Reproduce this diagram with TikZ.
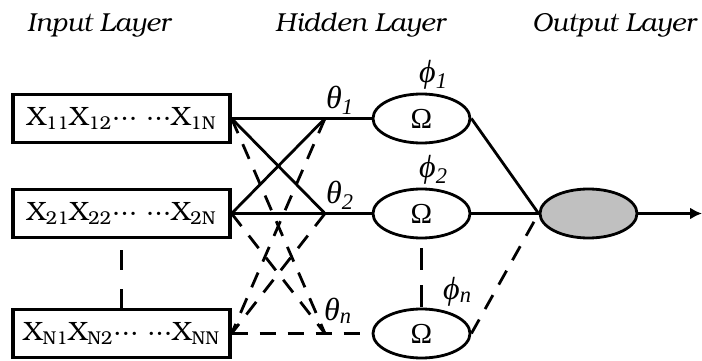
\documentclass[tikz,border=0pt]{standalone}
\usepackage{fontspec}
\setmainfont{Liberation Serif}
\newfontfamily\bonum{TeX Gyre Bonum}
\usetikzlibrary{shapes.geometric,arrows.meta}
\begin{document}
\begin{tikzpicture}[x=1pt,y=-1pt,
  inbox/.style={draw,line width=3.2pt,minimum width=217pt,minimum height=48pt,inner sep=0pt,font=\bonum\fontsize{26.5}{26.5}\selectfont},
  hid/.style={ellipse,draw,line width=2.8pt,minimum width=97pt,minimum height=49pt,inner sep=0pt,font=\fontsize{29}{29}\selectfont},
  conn/.style={line width=2.8pt},
  dconn/.style={line width=2.8pt,dash pattern=on 16pt off 12pt},
  vdashb/.style={line width=2.8pt,dash pattern=on 20pt off 19pt,dash phase=28pt},
  vdasho/.style={line width=2.8pt,dash pattern=on 22pt off 15pt,dash phase=28pt},
  title/.style={font=\bonum\itshape\fontsize{26}{26}\selectfont,anchor=base west,inner sep=0pt},
  glab/.style={font=\itshape\fontsize{32}{32}\selectfont,anchor=base west,inner sep=0pt}]
\useasboundingbox (0,0) rectangle (702,361);
% titles
\node[title] (ti) at (27,32) {Input Layer};
\node[title] (th) at (275,32) {Hidden Layer};
\node[title] (to) at (532,32) {Output Layer};
% input boxes
\node[inbox] (b1) at (121.5,118.5) {X\textsubscript{11}X\textsubscript{12}··· ···X\textsubscript{1N}};
\node[inbox] (b2) at (121.5,213.5) {X\textsubscript{21}X\textsubscript{22}··· ···X\textsubscript{2N}};
\node[inbox] (b3) at (121.5,333.5) {X\textsubscript{N1}X\textsubscript{N2}··· ···X\textsubscript{NN}};
% hidden nodes
\node[hid] (o1) at (421.5,118.5) {Ω};
\node[hid] (o2) at (421.5,213.5) {Ω};
\node[hid] (o3) at (421.5,333.5) {Ω};
% output node
\node[hid,fill={rgb,255:red,192;green,192;blue,192}] (out) at (588.5,213.5) {};
% junction points
\coordinate (t1) at (325,118.5);
\coordinate (t2) at (325,213.5);
\coordinate (tn) at (325,333.5);
\coordinate (end) at (702,213.5);
% connections
\draw[conn] (b1.east) -- (t1) -- (o1.west);
\draw[conn] (b2.east) -- (t2) -- (o2.west);
\draw[dconn] (b3.east) -- (tn) -- (o3.west);
\draw[conn] (b1.east) -- (t2);
\draw[conn] (b2.east) -- (t1);
\draw[dconn] (b1.east) -- (tn);
\draw[dconn] (b2.east) -- (tn);
\draw[dconn] (t1) -- (b3.east);
\draw[dconn] (t2) -- (b3.east);
\draw[vdashb] (b2.south) -- (b3.north);
\draw[vdasho] (o2.south) -- (o3.north);
\draw[conn] (o1.east) -- (out.west);
\draw[conn] (o2.east) -- (out.west);
\draw[dconn] (o3.east) -- (out.west);
\draw[conn,-{Latex[length=12pt,width=12pt]}] (out.east) -- (end);
% labels
\node[glab] (l1) at (326,108) {θ\textsubscript{1}};
\node[glab] (l2) at (326,203) {θ\textsubscript{2}};
\node[glab] (ln) at (324,320) {θ\textsubscript{n}};
\node[glab] (p1) at (419,82) {ϕ\textsubscript{1}};
\node[glab] (p2) at (419,177) {ϕ\textsubscript{2}};
\node[glab] (pn) at (443,299) {ϕ\textsubscript{n}};
\end{tikzpicture}
\end{document}
